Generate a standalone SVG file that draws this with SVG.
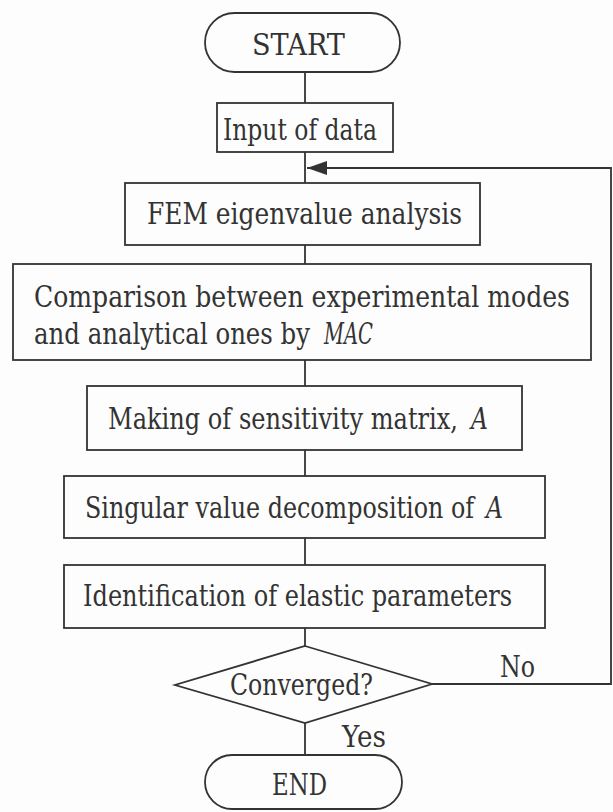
<svg xmlns="http://www.w3.org/2000/svg" width="613" height="812" viewBox="0 0 613 812">
<style>
.s{fill:none;stroke:#333;stroke-width:1.8}
.t{font-family:"DejaVu Serif","Liberation Serif","Times New Roman",serif;font-size:29px;fill:#333}
.i{font-style:italic}
</style>
<defs>
<marker id="ah" markerWidth="20" markerHeight="14" refX="20" refY="7" orient="auto" markerUnits="userSpaceOnUse">
<path d="M0,0 L20,7 L0,14 Z" fill="#333"/>
</marker>
</defs>
<rect width="613" height="812" fill="#fdfdfd"/>
<g id="connectors" class="s">
<line x1="305" y1="72" x2="305" y2="103"/>
<line x1="305" y1="152" x2="305" y2="183"/>
<line x1="305" y1="245" x2="305" y2="264"/>
<line x1="305" y1="360" x2="305" y2="386"/>
<line x1="305" y1="450" x2="305" y2="476"/>
<line x1="305" y1="538" x2="305" y2="565"/>
<line x1="305" y1="628" x2="305" y2="646"/>
<line x1="305" y1="723" x2="305" y2="755"/>
<polyline points="432,684 611,684 611,168 307,168" marker-end="url(#ah)"/>
<text class="t" x="500" y="677" textLength="35" lengthAdjust="spacingAndGlyphs" stroke="none">No</text>
<text class="t" x="342" y="747" textLength="44" lengthAdjust="spacingAndGlyphs" stroke="none">Yes</text>
</g>
<g id="start">
<rect class="s" x="205" y="13" width="195" height="59" rx="29.5"/>
<text class="t" x="252" y="55" textLength="93" lengthAdjust="spacingAndGlyphs">START</text>
</g>
<g id="input">
<rect class="s" x="217" y="103" width="176" height="49"/>
<text class="t" x="223" y="140" textLength="154" lengthAdjust="spacingAndGlyphs">Input of data</text>
</g>
<g id="fem">
<rect class="s" x="125" y="183" width="355" height="62"/>
<text class="t" x="147" y="224" textLength="315" lengthAdjust="spacingAndGlyphs">FEM eigenvalue analysis</text>
</g>
<g id="mac">
<rect class="s" x="13" y="264" width="578" height="96"/>
<text class="t" x="34" y="307" textLength="536" lengthAdjust="spacingAndGlyphs">Comparison between experimental modes</text>
<text class="t" x="34" y="344" textLength="276" lengthAdjust="spacingAndGlyphs">and analytical ones by</text>
<text class="t i" x="324" y="344" textLength="49" lengthAdjust="spacingAndGlyphs">MAC</text>
</g>
<g id="sensitivity">
<rect class="s" x="87" y="386" width="435" height="64"/>
<text class="t" x="108" y="429" textLength="350" lengthAdjust="spacingAndGlyphs">Making of sensitivity matrix,</text>
<text class="t i" x="471" y="429" textLength="17" lengthAdjust="spacingAndGlyphs">A</text>
</g>
<g id="svd">
<rect class="s" x="64" y="476" width="481" height="62"/>
<text class="t" x="85" y="518" textLength="389" lengthAdjust="spacingAndGlyphs">Singular value decomposition of</text>
<text class="t i" x="486" y="518" textLength="17" lengthAdjust="spacingAndGlyphs">A</text>
</g>
<g id="identification">
<rect class="s" x="64" y="565" width="481" height="63"/>
<text class="t" x="83" y="606" textLength="429" lengthAdjust="spacingAndGlyphs">Identification of elastic parameters</text>
</g>
<g id="converged">
<polygon class="s" points="305,646 432,684 305,723 175,685"/>
<text class="t" x="230" y="695" textLength="143" lengthAdjust="spacingAndGlyphs">Converged?</text>
</g>
<g id="end">
<rect class="s" x="205" y="755" width="197" height="54" rx="27"/>
<text class="t" x="272" y="795" textLength="55" lengthAdjust="spacingAndGlyphs">END</text>
</g>
</svg>
